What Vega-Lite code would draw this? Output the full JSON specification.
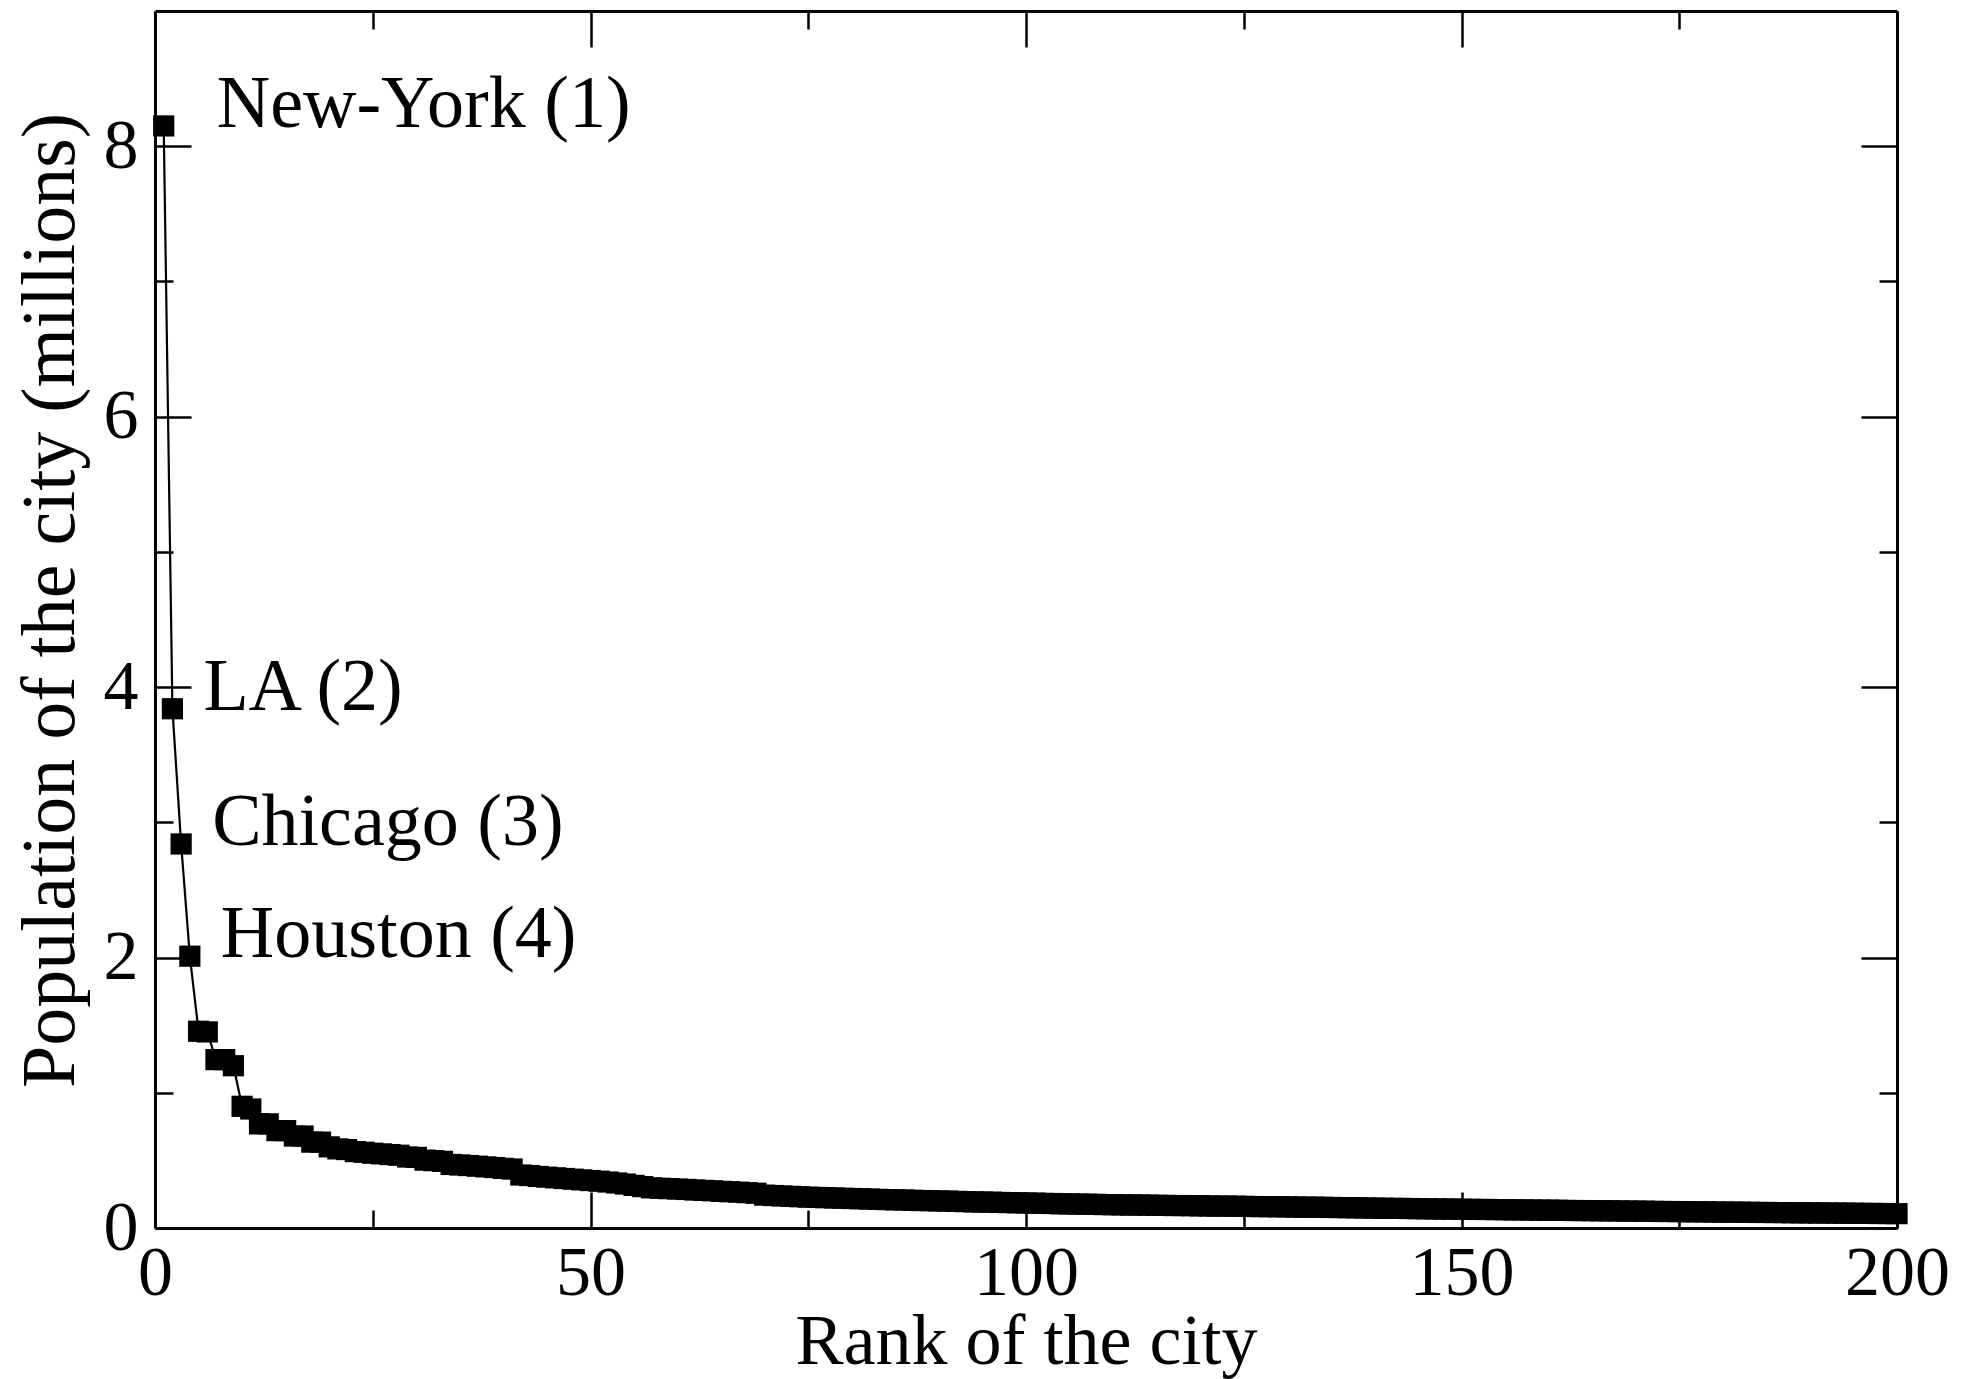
{
  "$schema": "https://vega.github.io/schema/vega-lite/v6.json",
  "width": 1742,
  "height": 1217,
  "autosize": {"type": "none"},
  "padding": {"left": 155, "top": 11, "right": 74, "bottom": 151},
  "background": "white",
  "config": {
    "view": {"stroke": null},
    "font": "Liberation Serif",
    "axis": {
      "grid": false,
      "domainColor": "black",
      "domainWidth": 3,
      "tickColor": "black",
      "tickWidth": 2.5,
      "labelColor": "black",
      "labelFont": "Liberation Serif",
      "labelFontSize": 70,
      "labelFlush": false,
      "labelOverlap": false,
      "titleColor": "black",
      "titleFont": "Liberation Serif",
      "titleFontSize": 72,
      "titleFontWeight": "normal"
    }
  },
  "datasets": {
    "cities": [
      {"rank": 1, "pop": 8.15, "city": "New-York (1)"},
      {"rank": 2, "pop": 3.84, "city": "LA (2)"},
      {"rank": 3, "pop": 2.84, "city": "Chicago (3)"},
      {"rank": 4, "pop": 2.01, "city": "Houston (4)"},
      {"rank": 5, "pop": 1.455}, {"rank": 6, "pop": 1.45}, {"rank": 7, "pop": 1.245}, {"rank": 8, "pop": 1.245},
      {"rank": 9, "pop": 1.2}, {"rank": 10, "pop": 0.9}, {"rank": 11, "pop": 0.88}, {"rank": 12, "pop": 0.77},
      {"rank": 13, "pop": 0.77}, {"rank": 14, "pop": 0.72}, {"rank": 15, "pop": 0.72}, {"rank": 16, "pop": 0.68},
      {"rank": 17, "pop": 0.68}, {"rank": 18, "pop": 0.635}, {"rank": 19, "pop": 0.635}, {"rank": 20, "pop": 0.6},
      {"rank": 21, "pop": 0.585}, {"rank": 22, "pop": 0.58}, {"rank": 23, "pop": 0.565}, {"rank": 24, "pop": 0.56},
      {"rank": 25, "pop": 0.553}, {"rank": 26, "pop": 0.548}, {"rank": 27, "pop": 0.543}, {"rank": 28, "pop": 0.538},
      {"rank": 29, "pop": 0.525}, {"rank": 30, "pop": 0.522}, {"rank": 31, "pop": 0.502}, {"rank": 32, "pop": 0.498},
      {"rank": 33, "pop": 0.493}, {"rank": 34, "pop": 0.47}, {"rank": 35, "pop": 0.466}, {"rank": 36, "pop": 0.462},
      {"rank": 37, "pop": 0.457}, {"rank": 38, "pop": 0.452}, {"rank": 39, "pop": 0.447}, {"rank": 40, "pop": 0.441},
      {"rank": 41, "pop": 0.436}, {"rank": 42, "pop": 0.392}, {"rank": 43, "pop": 0.388}, {"rank": 44, "pop": 0.381},
      {"rank": 45, "pop": 0.376}, {"rank": 46, "pop": 0.371}, {"rank": 47, "pop": 0.366}, {"rank": 48, "pop": 0.361},
      {"rank": 49, "pop": 0.356}, {"rank": 50, "pop": 0.351}, {"rank": 51, "pop": 0.346}, {"rank": 52, "pop": 0.34},
      {"rank": 53, "pop": 0.333}, {"rank": 54, "pop": 0.325}, {"rank": 55, "pop": 0.315}, {"rank": 56, "pop": 0.306},
      {"rank": 57, "pop": 0.297}, {"rank": 58, "pop": 0.294}, {"rank": 59, "pop": 0.291}, {"rank": 60, "pop": 0.288},
      {"rank": 61, "pop": 0.285}, {"rank": 62, "pop": 0.281}, {"rank": 63, "pop": 0.278}, {"rank": 64, "pop": 0.275},
      {"rank": 65, "pop": 0.271}, {"rank": 66, "pop": 0.268}, {"rank": 67, "pop": 0.265}, {"rank": 68, "pop": 0.261},
      {"rank": 69, "pop": 0.257}, {"rank": 70, "pop": 0.243}, {"rank": 71, "pop": 0.24}, {"rank": 72, "pop": 0.237},
      {"rank": 73, "pop": 0.234}, {"rank": 74, "pop": 0.231}, {"rank": 75, "pop": 0.228}, {"rank": 76, "pop": 0.226},
      {"rank": 77, "pop": 0.224}, {"rank": 78, "pop": 0.222}, {"rank": 79, "pop": 0.22}, {"rank": 80, "pop": 0.218},
      {"rank": 81, "pop": 0.216}, {"rank": 82, "pop": 0.214}, {"rank": 83, "pop": 0.212}, {"rank": 84, "pop": 0.21},
      {"rank": 85, "pop": 0.208}, {"rank": 86, "pop": 0.207}, {"rank": 87, "pop": 0.205}, {"rank": 88, "pop": 0.203},
      {"rank": 89, "pop": 0.202}, {"rank": 90, "pop": 0.2}, {"rank": 91, "pop": 0.199}, {"rank": 92, "pop": 0.197},
      {"rank": 93, "pop": 0.195}, {"rank": 94, "pop": 0.193}, {"rank": 95, "pop": 0.192}, {"rank": 96, "pop": 0.191},
      {"rank": 97, "pop": 0.189}, {"rank": 98, "pop": 0.188}, {"rank": 99, "pop": 0.186}, {"rank": 100, "pop": 0.185},
      {"rank": 101, "pop": 0.184}, {"rank": 102, "pop": 0.182}, {"rank": 103, "pop": 0.181}, {"rank": 104, "pop": 0.179},
      {"rank": 105, "pop": 0.178}, {"rank": 106, "pop": 0.177}, {"rank": 107, "pop": 0.176}, {"rank": 108, "pop": 0.175},
      {"rank": 109, "pop": 0.173}, {"rank": 110, "pop": 0.172}, {"rank": 111, "pop": 0.171}, {"rank": 112, "pop": 0.17},
      {"rank": 113, "pop": 0.17}, {"rank": 114, "pop": 0.169}, {"rank": 115, "pop": 0.168}, {"rank": 116, "pop": 0.167},
      {"rank": 117, "pop": 0.166}, {"rank": 118, "pop": 0.166}, {"rank": 119, "pop": 0.165}, {"rank": 120, "pop": 0.164},
      {"rank": 121, "pop": 0.163}, {"rank": 122, "pop": 0.162}, {"rank": 123, "pop": 0.162}, {"rank": 124, "pop": 0.161},
      {"rank": 125, "pop": 0.16}, {"rank": 126, "pop": 0.159}, {"rank": 127, "pop": 0.158}, {"rank": 128, "pop": 0.158},
      {"rank": 129, "pop": 0.157}, {"rank": 130, "pop": 0.156}, {"rank": 131, "pop": 0.155}, {"rank": 132, "pop": 0.154},
      {"rank": 133, "pop": 0.154}, {"rank": 134, "pop": 0.153}, {"rank": 135, "pop": 0.152}, {"rank": 136, "pop": 0.151},
      {"rank": 137, "pop": 0.15}, {"rank": 138, "pop": 0.149}, {"rank": 139, "pop": 0.148}, {"rank": 140, "pop": 0.147},
      {"rank": 141, "pop": 0.146}, {"rank": 142, "pop": 0.145}, {"rank": 143, "pop": 0.145}, {"rank": 144, "pop": 0.144},
      {"rank": 145, "pop": 0.143}, {"rank": 146, "pop": 0.142}, {"rank": 147, "pop": 0.141}, {"rank": 148, "pop": 0.14},
      {"rank": 149, "pop": 0.14}, {"rank": 150, "pop": 0.139}, {"rank": 151, "pop": 0.138}, {"rank": 152, "pop": 0.137},
      {"rank": 153, "pop": 0.137}, {"rank": 154, "pop": 0.136}, {"rank": 155, "pop": 0.135}, {"rank": 156, "pop": 0.134},
      {"rank": 157, "pop": 0.134}, {"rank": 158, "pop": 0.133}, {"rank": 159, "pop": 0.132}, {"rank": 160, "pop": 0.132},
      {"rank": 161, "pop": 0.131}, {"rank": 162, "pop": 0.13}, {"rank": 163, "pop": 0.129}, {"rank": 164, "pop": 0.129},
      {"rank": 165, "pop": 0.128}, {"rank": 166, "pop": 0.127}, {"rank": 167, "pop": 0.127}, {"rank": 168, "pop": 0.126},
      {"rank": 169, "pop": 0.125}, {"rank": 170, "pop": 0.125}, {"rank": 171, "pop": 0.124}, {"rank": 172, "pop": 0.123},
      {"rank": 173, "pop": 0.122}, {"rank": 174, "pop": 0.122}, {"rank": 175, "pop": 0.121}, {"rank": 176, "pop": 0.12},
      {"rank": 177, "pop": 0.12}, {"rank": 178, "pop": 0.119}, {"rank": 179, "pop": 0.118}, {"rank": 180, "pop": 0.118},
      {"rank": 181, "pop": 0.117}, {"rank": 182, "pop": 0.117}, {"rank": 183, "pop": 0.116}, {"rank": 184, "pop": 0.115},
      {"rank": 185, "pop": 0.115}, {"rank": 186, "pop": 0.114}, {"rank": 187, "pop": 0.114}, {"rank": 188, "pop": 0.113},
      {"rank": 189, "pop": 0.112}, {"rank": 190, "pop": 0.112}, {"rank": 191, "pop": 0.111}, {"rank": 192, "pop": 0.111},
      {"rank": 193, "pop": 0.11}, {"rank": 194, "pop": 0.11}, {"rank": 195, "pop": 0.109}, {"rank": 196, "pop": 0.108},
      {"rank": 197, "pop": 0.108}, {"rank": 198, "pop": 0.107}, {"rank": 199, "pop": 0.107}, {"rank": 200, "pop": 0.106}
    ]
  },
  "data": {"name": "cities"},
  "layer": [
    {
      "mark": {"type": "line", "color": "black", "strokeWidth": 2.2},
      "encoding": {
        "x": {
          "field": "rank", "type": "quantitative",
          "scale": {"domain": [0, 200], "nice": false, "zero": false},
          "axis": {
            "orient": "bottom",
            "values": [0, 25, 50, 75, 100, 125, 150, 175, 200],
            "labelExpr": "datum.value % 50 === 0 ? datum.label : ''",
            "tickSize": {"condition": {"test": "datum.value % 50 === 0", "value": -36}, "value": -18},
            "labelPadding": 47,
            "title": "Rank of the city",
            "titlePadding": -20
          }
        },
        "y": {
          "field": "pop", "type": "quantitative",
          "scale": {"domain": [0, 9], "nice": false},
          "axis": {
            "orient": "left",
            "values": [0, 1, 2, 3, 4, 5, 6, 7, 8],
            "labelExpr": "datum.value % 2 === 0 ? datum.label : ''",
            "tickSize": {"condition": {"test": "datum.value % 2 === 0", "value": -36}, "value": -18},
            "labelPadding": 53,
            "title": "Population of the city (millions)",
            "titleFontSize": 76,
            "titleY": 589,
            "titlePadding": 14
          }
        }
      }
    },
    {
      "mark": {"type": "point", "shape": "square", "filled": true, "size": 450, "color": "black", "opacity": 1},
      "encoding": {
        "x": {
          "field": "rank", "type": "quantitative",
          "axis": {
            "orient": "top",
            "values": [0, 25, 50, 75, 100, 125, 150, 175, 200],
            "labels": false,
            "tickSize": {"condition": {"test": "datum.value % 50 === 0", "value": -36}, "value": -18},
            "title": null
          }
        },
        "y": {
          "field": "pop", "type": "quantitative",
          "axis": {
            "orient": "right",
            "values": [0, 1, 2, 3, 4, 5, 6, 7, 8],
            "labels": false,
            "tickSize": {"condition": {"test": "datum.value % 2 === 0", "value": -36}, "value": -18},
            "title": null
          }
        }
      }
    },
    {
      "transform": [{"filter": "datum.rank === 1"}],
      "mark": {"type": "text", "font": "Liberation Serif", "fontSize": 74, "align": "left", "baseline": "alphabetic", "dx": 53, "dy": 1, "color": "black"},
      "encoding": {
        "x": {"field": "rank", "type": "quantitative", "axis": null},
        "y": {"field": "pop", "type": "quantitative", "axis": null},
        "text": {"field": "city"}
      }
    },
    {
      "transform": [{"filter": "datum.rank >= 2 && datum.rank <= 4"}],
      "mark": {"type": "text", "font": "Liberation Serif", "fontSize": 74, "align": "left", "baseline": "alphabetic", "dx": 31, "dy": 1, "color": "black"},
      "encoding": {
        "x": {"field": "rank", "type": "quantitative", "axis": null},
        "y": {"field": "pop", "type": "quantitative", "axis": null},
        "text": {"field": "city"}
      }
    }
  ],
  "resolve": {"axis": {"x": "independent", "y": "independent"}}
}
